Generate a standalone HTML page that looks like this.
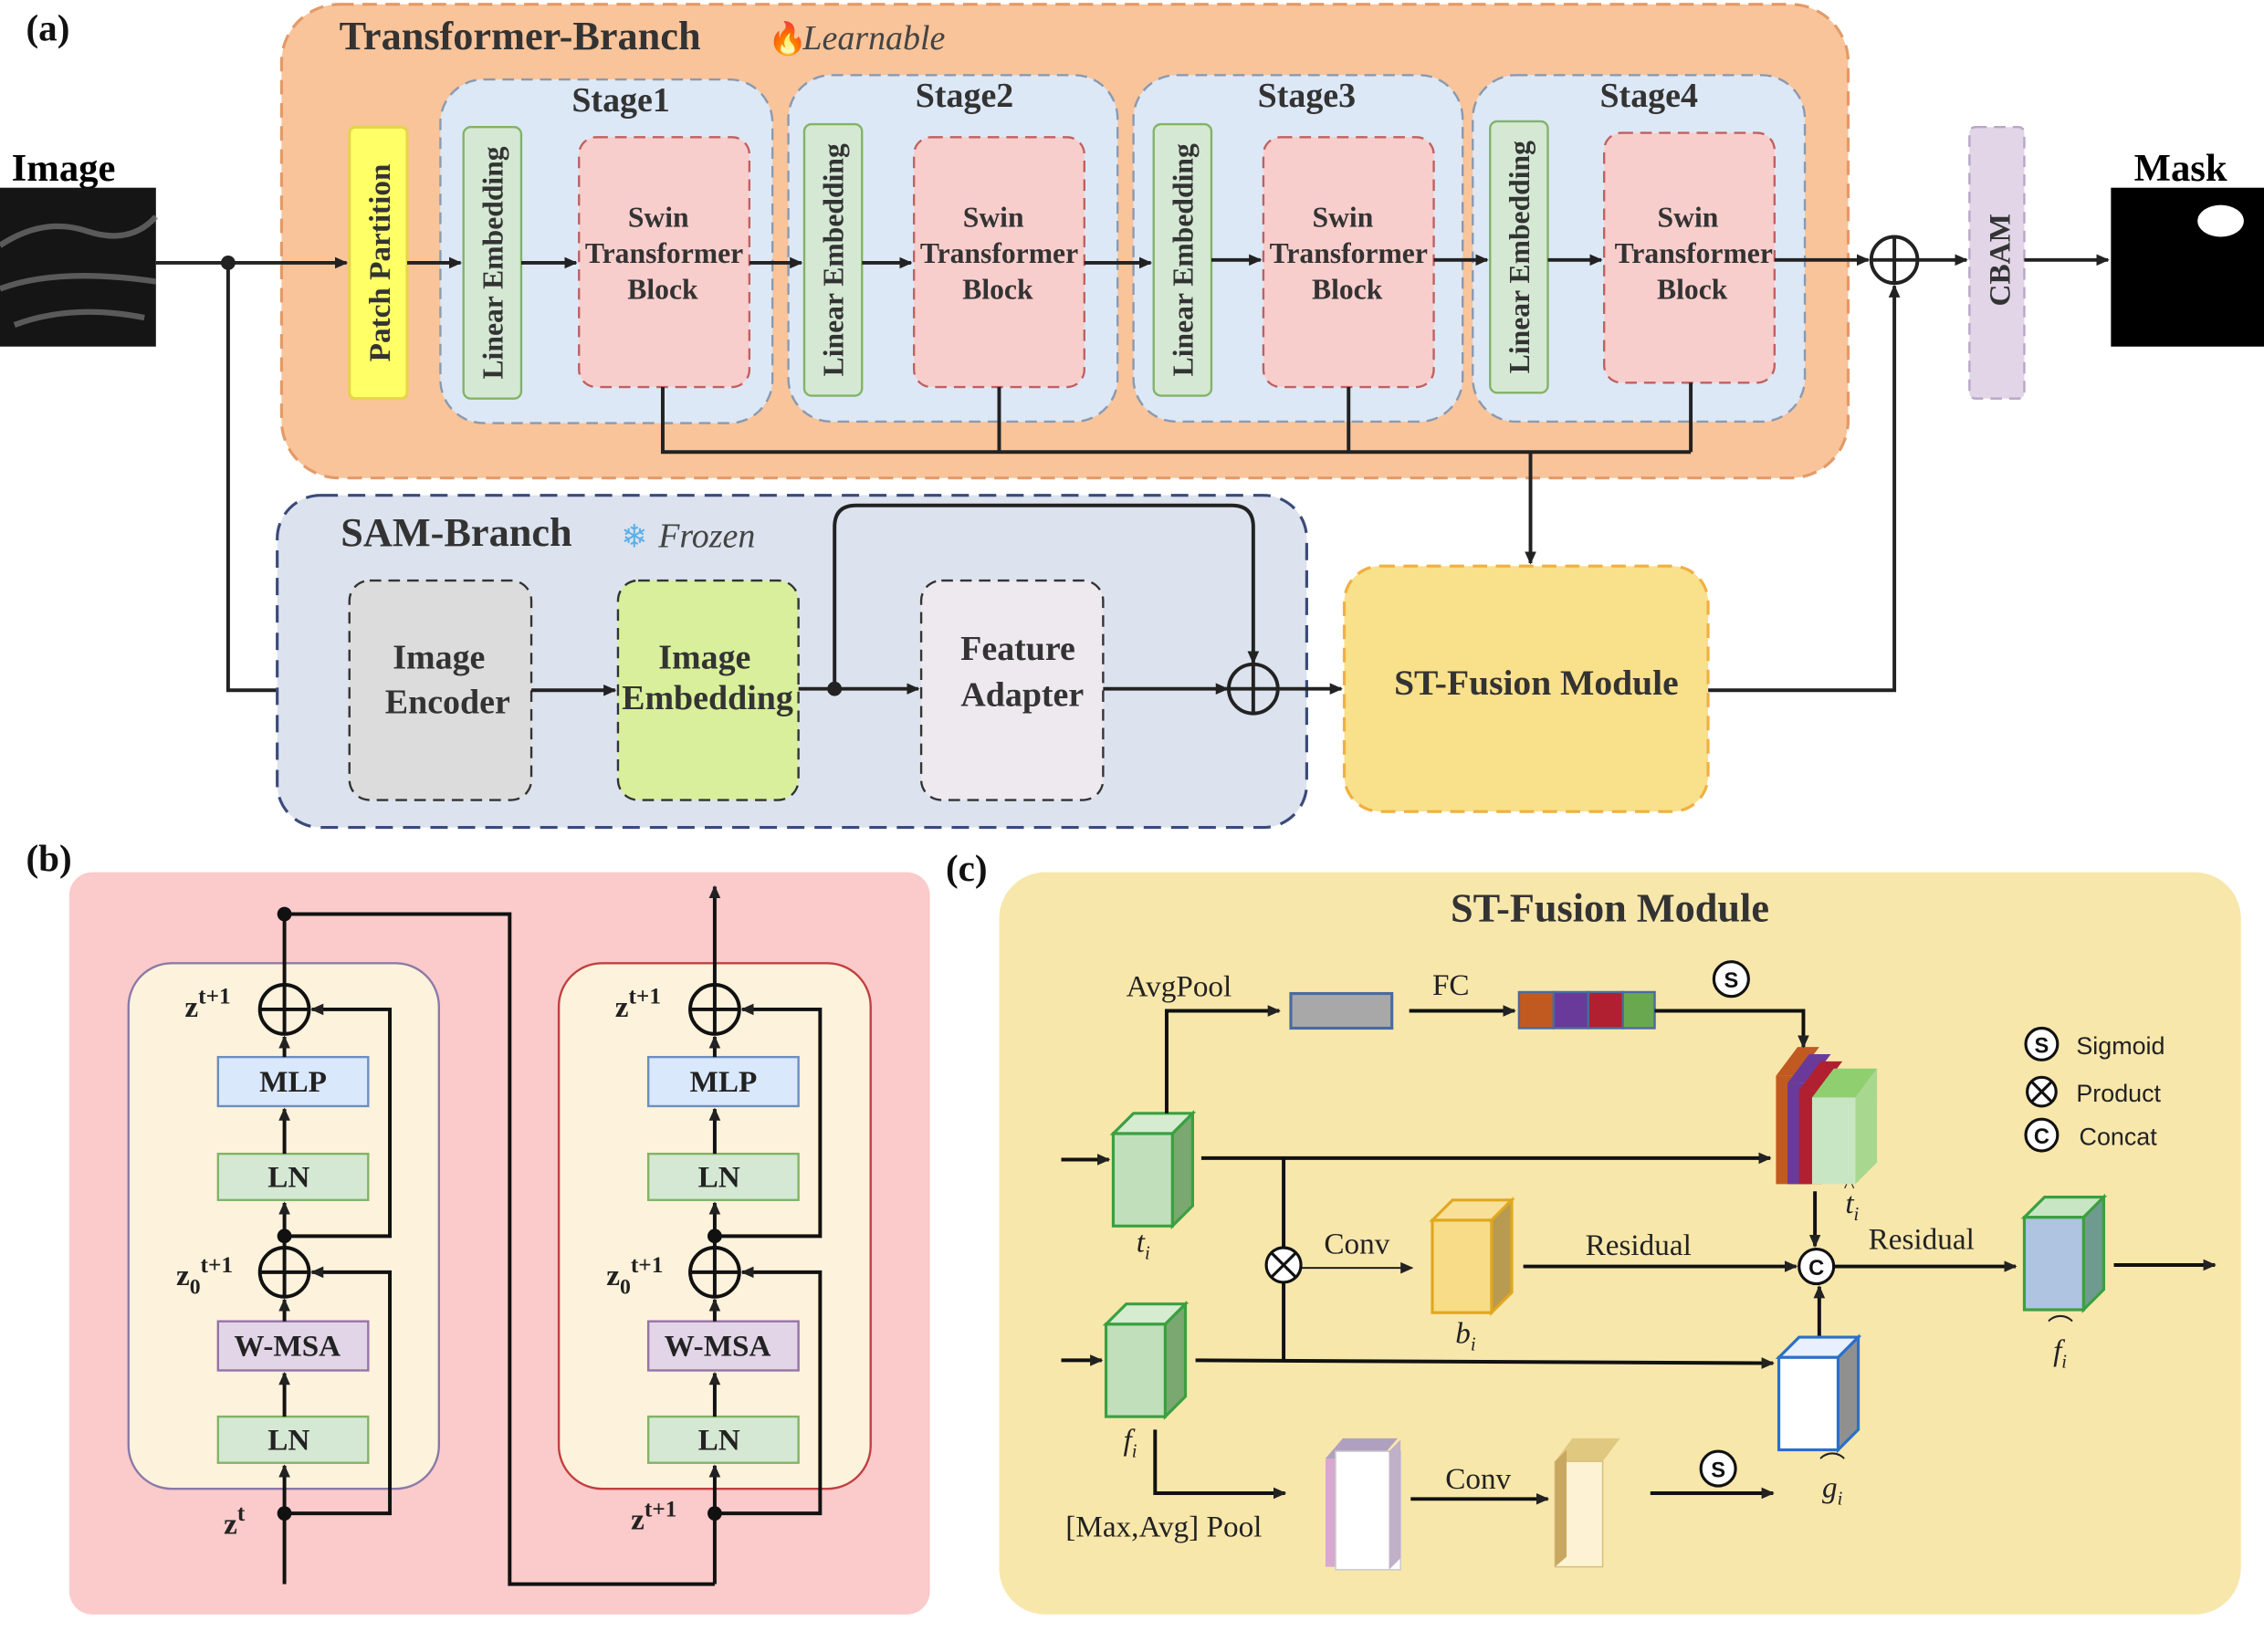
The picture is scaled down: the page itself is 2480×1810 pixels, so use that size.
<!DOCTYPE html>
<html><head><meta charset="utf-8"><style>html,body{margin:0;padding:0;background:#fff}svg{display:block}</style></head>
<body>
<svg width="2480" height="1810" viewBox="0 0 1568 1144" preserveAspectRatio="none" xmlns="http://www.w3.org/2000/svg" font-family="'Liberation Serif',serif">
<defs>
<marker id="ar" markerWidth="10" markerHeight="10" refX="8" refY="5" orient="auto" markerUnits="userSpaceOnUse"><path d="M0,1 L9,5 L0,9 z" fill="#222"/></marker>
</defs>
<g font-weight="bold" fill="#111" font-size="26"><text x="18" y="28">(a)</text><text x="18" y="603">(b)</text><text x="655" y="610">(c)</text></g>

<rect x="195" y="3" width="1085" height="328" rx="40" fill="#f9c49a" stroke="#e39a68" stroke-width="2" stroke-dasharray="10,6"/>
<text x="235" y="34" font-size="28" font-weight="bold" fill="#333">Transformer-Branch</text>
<text x="532" y="34" font-size="22" fill="#e8641a">🔥</text><text x="556" y="34" font-size="24" font-style="italic" fill="#444">Learnable</text>

<text x="8" y="125" font-size="27" font-weight="bold">Image</text>
<rect x="0" y="130" width="108" height="110" fill="#151515"/>
<path d="M0,170 Q30,150 60,160 T108,150 M0,200 Q40,185 108,195 M10,225 Q50,210 100,220" stroke="#777" stroke-width="4" fill="none" opacity="0.7"/>
<text x="1478" y="125" font-size="27" font-weight="bold">Mask</text>
<rect x="1462" y="130" width="106" height="110" fill="#000"/>
<ellipse cx="1538" cy="153" rx="16" ry="11" fill="#fff"/>

<rect x="242" y="88" width="40" height="188" rx="4" fill="#ffff66" stroke="#e6d44a" stroke-width="2"/>
<text transform="translate(270,182) rotate(-90)" text-anchor="middle" font-size="21" font-weight="bold" fill="#333">Patch Partition</text>

<g fill="#dde8f6" stroke="#8a9ab0" stroke-width="1.5" stroke-dasharray="8,5">
<rect x="305" y="55" width="230" height="238" rx="30"/><rect x="546" y="52" width="228" height="240" rx="30"/>
<rect x="785" y="52" width="228" height="240" rx="30"/><rect x="1020" y="52" width="230" height="240" rx="30"/>
</g>
<g font-size="24" font-weight="bold" fill="#333" text-anchor="middle">
<text x="430" y="77">Stage1</text><text x="668" y="74">Stage2</text><text x="905" y="74">Stage3</text><text x="1142" y="74">Stage4</text></g>
<g fill="#d5e8d4" stroke="#82b366" stroke-width="1.5">
<rect x="321" y="88" width="40" height="188" rx="5"/><rect x="557" y="86" width="40" height="188" rx="5"/>
<rect x="799" y="86" width="40" height="188" rx="5"/><rect x="1032" y="84" width="40" height="188" rx="5"/></g>
<g font-size="20" font-weight="bold" fill="#333" text-anchor="middle">
<text transform="translate(348,182) rotate(-90)">Linear Embedding</text>
<text transform="translate(584,180) rotate(-90)">Linear Embedding</text>
<text transform="translate(826,180) rotate(-90)">Linear Embedding</text>
<text transform="translate(1059,178) rotate(-90)">Linear Embedding</text></g>
<g fill="#f8cecc" stroke="#c06060" stroke-width="1.5" stroke-dasharray="8,5">
<rect x="401" y="95" width="118" height="173" rx="12"/><rect x="633" y="95" width="118" height="173" rx="12"/>
<rect x="875" y="95" width="118" height="173" rx="12"/><rect x="1111" y="92" width="118" height="173" rx="12"/></g>
<g font-size="20" font-weight="bold" fill="#333" text-anchor="middle">
<text x="456" y="157">Swin</text><text x="460" y="182">Transformer</text><text x="459" y="207">Block</text>
<text x="688" y="157">Swin</text><text x="692" y="182">Transformer</text><text x="691" y="207">Block</text>
<text x="930" y="157">Swin</text><text x="934" y="182">Transformer</text><text x="933" y="207">Block</text>
<text x="1169" y="157">Swin</text><text x="1173" y="182">Transformer</text><text x="1172" y="207">Block</text></g>

<rect x="1364" y="88" width="38" height="188" rx="4" fill="#e1d5e7" stroke="#b8a6c6" stroke-width="1.5" stroke-dasharray="8,5"/>
<text transform="translate(1392,180) rotate(-90)" text-anchor="middle" font-size="21" font-weight="bold" fill="#333">CBAM</text>

<g stroke="#222" stroke-width="2.5" fill="none">
<line x1="108" y1="182" x2="240" y2="182" marker-end="url(#ar)"/>
<line x1="282" y1="182" x2="319" y2="182" marker-end="url(#ar)"/>
<line x1="361" y1="182" x2="399" y2="182" marker-end="url(#ar)"/>
<line x1="519" y1="182" x2="555" y2="182" marker-end="url(#ar)"/>
<line x1="597" y1="182" x2="631" y2="182" marker-end="url(#ar)"/>
<line x1="751" y1="182" x2="797" y2="182" marker-end="url(#ar)"/>
<line x1="839" y1="180" x2="873" y2="180" marker-end="url(#ar)"/>
<line x1="993" y1="180" x2="1030" y2="180" marker-end="url(#ar)"/>
<line x1="1072" y1="180" x2="1109" y2="180" marker-end="url(#ar)"/>
<line x1="1229" y1="180" x2="1294" y2="180" marker-end="url(#ar)"/>
<line x1="1328" y1="180" x2="1362" y2="180" marker-end="url(#ar)"/>
<line x1="1402" y1="180" x2="1460" y2="180" marker-end="url(#ar)"/>
<polyline points="459,268 459,313 1171,313"/><line x1="692" y1="268" x2="692" y2="313"/><line x1="934" y1="268" x2="934" y2="313"/><line x1="1171" y1="265" x2="1171" y2="313"/>
<line x1="1060" y1="313" x2="1060" y2="390" marker-end="url(#ar)"/>
<polyline points="158,182 158,478 240,478" marker-end="url(#ar)"/>
<polyline points="1183,478 1312,478 1312,198" marker-end="url(#ar)"/>
<circle cx="1312" cy="180" r="16"/><line x1="1296" y1="180" x2="1328" y2="180"/><line x1="1312" y1="164" x2="1312" y2="196"/>
</g>
<circle cx="158" cy="182" r="5" fill="#222"/>

<rect x="192" y="343" width="713" height="230" rx="30" fill="#dce3ee" stroke="#3b4a7a" stroke-width="2" stroke-dasharray="12,7"/>
<text x="236" y="378" font-size="28" font-weight="bold" fill="#333">SAM-Branch</text>
<text x="430" y="379" font-size="22" fill="#5ab0e8">❄</text><text x="456" y="379" font-size="24" font-style="italic" fill="#444">Frozen</text>
<rect x="242" y="402" width="126" height="152" rx="14" fill="#dcdcdc" stroke="#333" stroke-width="1.5" stroke-dasharray="8,5"/>
<rect x="428" y="402" width="125" height="152" rx="14" fill="#d9ef9b" stroke="#333" stroke-width="1.5" stroke-dasharray="8,5"/>
<rect x="638" y="402" width="126" height="152" rx="14" fill="#eee8ef" stroke="#333" stroke-width="1.5" stroke-dasharray="8,5"/>
<g font-size="24" font-weight="bold" fill="#333" text-anchor="middle">
<text x="304" y="463">Image</text><text x="310" y="494">Encoder</text>
<text x="488" y="463">Image</text><text x="490" y="491">Embedding</text>
<text x="705" y="457">Feature</text><text x="708" y="489">Adapter</text></g>
<rect x="931" y="392" width="252" height="170" rx="25" fill="#f9e08a" stroke="#f0b040" stroke-width="2" stroke-dasharray="10,6"/>
<text x="1064" y="481" text-anchor="middle" font-size="25" font-weight="bold" fill="#333">ST-Fusion Module</text>
<g stroke="#222" stroke-width="2.5" fill="none">
<line x1="368" y1="478" x2="426" y2="478" marker-end="url(#ar)"/>
<line x1="553" y1="477" x2="636" y2="477" marker-end="url(#ar)"/>
<line x1="764" y1="477" x2="850" y2="477" marker-end="url(#ar)"/>
<line x1="886" y1="477" x2="929" y2="477" marker-end="url(#ar)"/>
<path d="M578,477 L578,365 Q578,350 593,350 L853,350 Q868,350 868,365 L868,459" marker-end="url(#ar)"/>
<circle cx="868" cy="477" r="17"/><line x1="851" y1="477" x2="885" y2="477"/><line x1="868" y1="460" x2="868" y2="494"/>
</g>
<circle cx="578" cy="477" r="5" fill="#222"/>

<rect x="48" y="604" width="596" height="514" rx="16" fill="#fbcaca"/>
<rect x="89" y="667" width="215" height="364" rx="30" fill="#fdf2dc" stroke="#8a7aa8" stroke-width="1.5"/>
<rect x="387" y="667" width="216" height="364" rx="30" fill="#fdf2dc" stroke="#c04040" stroke-width="1.5"/>
<g stroke-width="1.5">
<rect x="151" y="732" width="104" height="34" fill="#dae8fc" stroke="#6c8ebf"/><rect x="449" y="732" width="104" height="34" fill="#dae8fc" stroke="#6c8ebf"/>
<rect x="151" y="799" width="104" height="32" fill="#d5e8d4" stroke="#82b366"/><rect x="449" y="799" width="104" height="32" fill="#d5e8d4" stroke="#82b366"/>
<rect x="151" y="915" width="104" height="34" fill="#e1d5e7" stroke="#9673a6"/><rect x="449" y="915" width="104" height="34" fill="#e1d5e7" stroke="#9673a6"/>
<rect x="151" y="981" width="104" height="32" fill="#d5e8d4" stroke="#82b366"/><rect x="449" y="981" width="104" height="32" fill="#d5e8d4" stroke="#82b366"/>
</g>
<g font-size="21" font-weight="bold" fill="#222" text-anchor="middle">
<text x="203" y="756">MLP</text><text x="501" y="756">MLP</text>
<text x="200" y="822">LN</text><text x="498" y="822">LN</text>
<text x="199" y="939">W-MSA</text><text x="497" y="939">W-MSA</text>
<text x="200" y="1004">LN</text><text x="498" y="1004">LN</text></g>
<g font-size="21" font-weight="bold" fill="#222">
<text x="128" y="704">z<tspan dy="-9" font-size="16">t+1</tspan></text>
<text x="122" y="890">z<tspan dy="6" font-size="15">0</tspan><tspan dy="-15" font-size="16">t+1</tspan></text>
<text x="155" y="1062">z<tspan dy="-9" font-size="16">t</tspan></text>
<text x="426" y="704">z<tspan dy="-9" font-size="16">t+1</tspan></text>
<text x="420" y="890">z<tspan dy="6" font-size="15">0</tspan><tspan dy="-15" font-size="16">t+1</tspan></text>
<text x="437" y="1059">z<tspan dy="-9" font-size="16">t+1</tspan></text></g>
<g stroke="#111" stroke-width="2.5" fill="none">
<g id="blk">
<line x1="197" y1="1097" x2="197" y2="1015" marker-end="url(#ar)"/>
<line x1="197" y1="981" x2="197" y2="951" marker-end="url(#ar)"/>
<line x1="197" y1="915" x2="197" y2="900" marker-end="url(#ar)"/>
<line x1="197" y1="864" x2="197" y2="833" marker-end="url(#ar)"/>
<line x1="197" y1="799" x2="197" y2="768" marker-end="url(#ar)"/>
<line x1="197" y1="732" x2="197" y2="718" marker-end="url(#ar)"/>
<polyline points="197,1048 270,1048 270,881 216,881" marker-end="url(#ar)"/>
<polyline points="197,856 270,856 270,699 216,699" marker-end="url(#ar)"/>
<circle cx="197" cy="699" r="17"/><line x1="180" y1="699" x2="214" y2="699"/><line x1="197" y1="682" x2="197" y2="716"/>
<circle cx="197" cy="881" r="17"/><line x1="180" y1="881" x2="214" y2="881"/><line x1="197" y1="864" x2="197" y2="898"/>
</g>
<use href="#blk" transform="translate(298,0)"/>
<polyline points="197,682 197,633 353,633 353,1097 495,1097"/>
<line x1="495" y1="682" x2="495" y2="614" marker-end="url(#ar)"/>
</g>
<g fill="#111"><circle cx="197" cy="633" r="5"/><circle cx="197" cy="1048" r="5"/><circle cx="197" cy="856" r="5"/><circle cx="495" cy="1048" r="5"/><circle cx="495" cy="856" r="5"/></g>

<rect x="692" y="604" width="860" height="514" rx="32" fill="#f8e7ab"/>
<text x="1115" y="638" text-anchor="middle" font-size="28" font-weight="bold" fill="#333">ST-Fusion Module</text>
<g font-size="21" fill="#222">
<text x="780" y="690">AvgPool</text><text x="992" y="689">FC</text><text x="917" y="868">Conv</text>
<text x="1098" y="869">Residual</text><text x="1294" y="865">Residual</text>
<text x="738" y="1064">[Max,Avg] Pool</text><text x="1001" y="1031">Conv</text>
<text x="787" y="867" font-style="italic">t<tspan dy="5" font-size="13">i</tspan></text>
<text x="778" y="1004" font-style="italic">f<tspan dy="5" font-size="13">i</tspan></text>
<text x="1008" y="930" font-style="italic">b<tspan dy="5" font-size="13">i</tspan></text>
<text x="1278" y="840" font-style="italic">t<tspan dy="5" font-size="13">i</tspan></text><text x="1277" y="826" font-size="16">^</text>
<text x="1262" y="1037" font-style="italic">g<tspan dy="5" font-size="13">i</tspan></text><text x="1260" y="1021" font-size="18">⌒</text>
<text x="1422" y="942" font-style="italic">f<tspan dy="5" font-size="13">i</tspan></text><text x="1418" y="926" font-size="18">⌒</text>
</g>
<g font-family="'Liberation Sans',sans-serif" font-size="17" fill="#222">
<text x="1438" y="730">Sigmoid</text><text x="1438" y="763">Product</text><text x="1440" y="793">Concat</text></g>
<g stroke="#111" stroke-width="2" fill="#fff">
<circle cx="1414" cy="723" r="11"/><circle cx="1414" cy="756" r="10"/><circle cx="1414" cy="786" r="11"/>
<circle cx="1199" cy="678" r="12"/><circle cx="1190" cy="1017" r="12"/><circle cx="1258" cy="877" r="12"/><circle cx="889" cy="876" r="12"/>
</g>
<g stroke="#111" stroke-width="2"><line x1="1407" y1="749" x2="1421" y2="763"/><line x1="1421" y1="749" x2="1407" y2="763"/>
<line x1="881" y1="868" x2="897" y2="884"/><line x1="897" y1="868" x2="881" y2="884"/></g>
<g font-family="'Liberation Sans',sans-serif" font-size="15" font-weight="bold" fill="#111" text-anchor="middle">
<text x="1414" y="729">S</text><text x="1414" y="792">C</text><text x="1199" y="684">S</text><text x="1190" y="1023">S</text><text x="1258" y="883">C</text></g>

<rect x="894" y="688" width="70" height="24" fill="#a8a8a8" stroke="#4a6aa0" stroke-width="2"/>
<g stroke="#4a6aa0" stroke-width="1.5"><rect x="1052" y="687" width="24" height="25" fill="#c05a20"/><rect x="1076" y="687" width="24" height="25" fill="#6a3a9a"/><rect x="1100" y="687" width="24" height="25" fill="#b02030"/><rect x="1124" y="687" width="22" height="25" fill="#6aa84f"/></g>

<g stroke-width="2">
<polygon points="771,785 785,771 826,771 812,785" fill="#d5ecd0" stroke="#3aa040"/><polygon points="812,785 826,771 826,835 812,849" fill="#7aa870" stroke="#3aa040"/><rect x="771" y="785" width="41" height="64" fill="#c2dfbc" stroke="#3aa040"/>
<polygon points="766,917 780,903 821,903 807,917" fill="#d5ecd0" stroke="#3aa040"/><polygon points="807,917 821,903 821,967 807,981" fill="#7aa870" stroke="#3aa040"/><rect x="766" y="917" width="41" height="64" fill="#c2dfbc" stroke="#3aa040"/>
<polygon points="992,845 1006,831 1047,831 1033,845" fill="#f8e098" stroke="#e0a820"/><polygon points="1033,845 1047,831 1047,895 1033,909" fill="#b89a50" stroke="#e0a820"/><rect x="992" y="845" width="41" height="64" fill="#f8dc88" stroke="#e0a820"/>
<polygon points="1402,843 1416,829 1457,829 1443,843" fill="#c9e6c4" stroke="#3aa040"/><polygon points="1443,843 1457,829 1457,893 1443,907" fill="#6f9a90" stroke="#3aa040"/><rect x="1402" y="843" width="41" height="64" fill="#aec4e0" stroke="#3aa040"/>
<polygon points="1232,940 1246,926 1287,926 1273,940" fill="#e8f0ff" stroke="#2a70c8"/><polygon points="1273,940 1287,926 1287,990 1273,1004" fill="#909090" stroke="#2a70c8"/><rect x="1232" y="940" width="41" height="64" fill="#fff" stroke="#2a70c8"/>
</g>
<g>
<polygon points="1230,745 1245,725 1260,725 1245,745" fill="#c05a20"/><rect x="1230" y="745" width="16" height="75" fill="#c05a20"/>
<polygon points="1238,750 1253,730 1268,730 1253,750" fill="#6a3a9a"/><rect x="1238" y="750" width="16" height="70" fill="#6a3a9a"/>
<polygon points="1246,755 1261,735 1276,735 1261,755" fill="#b02030"/><rect x="1246" y="755" width="16" height="65" fill="#b02030"/>
<polygon points="1255,760 1270,740 1300,740 1285,760" fill="#8fcf70"/><rect x="1255" y="760" width="30" height="60" fill="#c9e6c4"/><polygon points="1285,760 1300,740 1300,805 1285,820" fill="#a8d890"/>
</g>
<g>
<polygon points="918,1010 930,996 968,996 956,1010" fill="#b0a0c0"/><rect x="918" y="1010" width="10" height="75" fill="#d8a8d0"/><rect x="925" y="1005" width="45" height="82" fill="#fff" stroke="#ccc"/><polygon points="962,1005 970,997 970,1079 962,1087" fill="#c0b0c8"/>
<polygon points="1077,1012 1089,996 1122,996 1110,1012" fill="#e0c880"/><rect x="1077" y="1012" width="33" height="73" fill="#fdf3d4" stroke="#d8c080"/><polygon points="1077,1012 1085,1004 1085,1078 1077,1085" fill="#c8a860"/>
</g>
<g stroke="#111" stroke-width="2.5" fill="none">
<polyline points="808,771 808,700 886,700" marker-end="url(#ar)"/>
<line x1="976" y1="700" x2="1049" y2="700" marker-end="url(#ar)"/>
<polyline points="1146,700 1249,700 1249,725" marker-end="url(#ar)"/>
<line x1="735" y1="803" x2="768" y2="803" marker-end="url(#ar)"/>
<line x1="735" y1="942" x2="763" y2="942" marker-end="url(#ar)"/>
<line x1="832" y1="802" x2="1226" y2="802" marker-end="url(#ar)"/>
<line x1="889" y1="802" x2="889" y2="864"/>
<line x1="889" y1="888" x2="889" y2="942"/>
<line x1="828" y1="942" x2="1228" y2="944" marker-end="url(#ar)"/>
<line x1="1055" y1="877" x2="1244" y2="877" marker-end="url(#ar)"/>
<line x1="1257" y1="825" x2="1257" y2="863" marker-end="url(#ar)"/>
<line x1="1260" y1="925" x2="1260" y2="891" marker-end="url(#ar)"/>
<line x1="1270" y1="877" x2="1396" y2="877" marker-end="url(#ar)"/>
<line x1="1464" y1="876" x2="1534" y2="876" marker-end="url(#ar)"/>
<polyline points="800,990 800,1034 890,1034" marker-end="url(#ar)"/>
<line x1="977" y1="1038" x2="1072" y2="1038" marker-end="url(#ar)"/>
<polyline points="1143,1034 1228,1034" marker-end="url(#ar)"/>
</g>
<line x1="901" y1="878" x2="978" y2="878" stroke="#111" stroke-width="1.2" marker-end="url(#ar)"/>
</svg>
</body></html>
